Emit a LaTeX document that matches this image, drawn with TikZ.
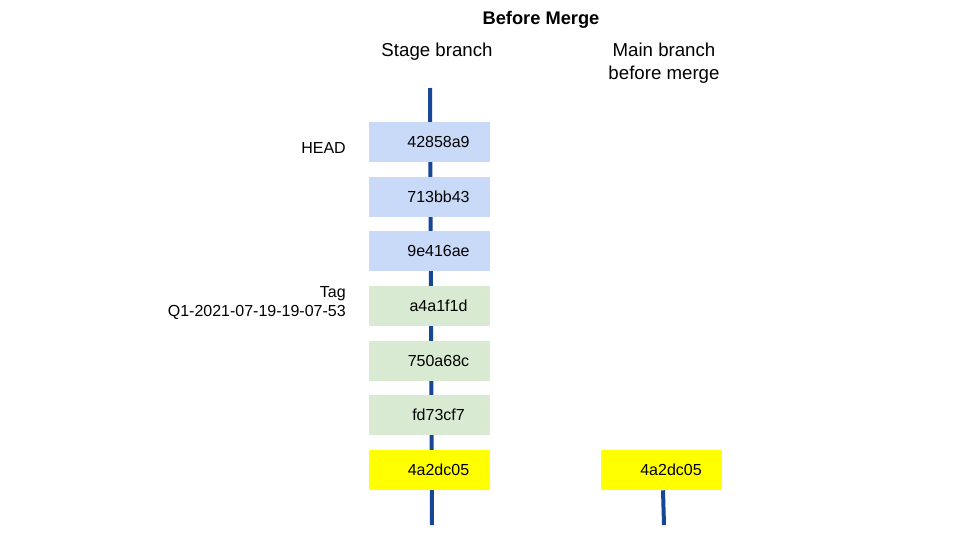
\documentclass[tikz,border=0pt]{standalone}
\usepackage{fontspec}
\setmainfont{Liberation Sans}
\definecolor{lineblue}{RGB}{24,70,150}
\definecolor{cblue}{RGB}{201,218,248}
\definecolor{cgreen}{RGB}{217,234,211}
\definecolor{cyellow}{RGB}{255,255,0}
\begin{document}
\begin{tikzpicture}[x=0.75pt,y=-0.75pt,
  commit/.style={minimum width=90.75pt,minimum height=30pt,inner sep=0pt,font=\fontsize{12}{14}\selectfont,text depth=0pt},
  label/.style={font=\fontsize{12}{14.25}\selectfont,align=right,anchor=east,inner sep=0pt},
  head/.style={font=\fontsize{14}{17.25}\selectfont,align=center,inner sep=0pt},
  branchline/.style={draw=lineblue,line width=3pt}]
\useasboundingbox (0,0) rectangle (960,540);
\node[head,font=\bfseries\fontsize{13.7}{16}\selectfont] (title) at (541,20) {Before Merge};
\node[head] (stage) at (437,52) {Stage branch};
\node[head] (main) at (664,63.5) {Main branch\\before merge};
\coordinate (ltop) at (430,88);
\coordinate (lbot) at (432,525);
\draw[branchline] (ltop) -- (lbot);
\foreach \n/\y/\c/\t in {c1/142/cblue/42858a9, c2/196.5/cblue/713bb43, c3/251/cblue/9e416ae, c4/306/cgreen/a4a1f1d, c5/361/cgreen/750a68c, c6/415/cgreen/fd73cf7, c7/470/cyellow/4a2dc05}{
  \node[commit,fill=\c] (\n) at (429.5,\y) {};
  \node[font=\fontsize{12}{14}\selectfont,inner sep=0pt] (\n t) at (438.5,\y) {\t};
}
\node[commit,fill=cyellow] (m1) at (661.5,470) {};
\node[font=\fontsize{12}{14}\selectfont,inner sep=0pt] (m1t) at (671,470) {4a2dc05};
\coordinate (mbot) at (664,525);
\draw[branchline] (m1.south) ++(1.5,0) coordinate (mtop) -- (mbot);
\node[label] (headlbl) at (346,148) {HEAD};
\node[label] (taglbl) at (346,302.5) {Tag\\Q1-2021-07-19-19-07-53};
\end{tikzpicture}
\end{document}
